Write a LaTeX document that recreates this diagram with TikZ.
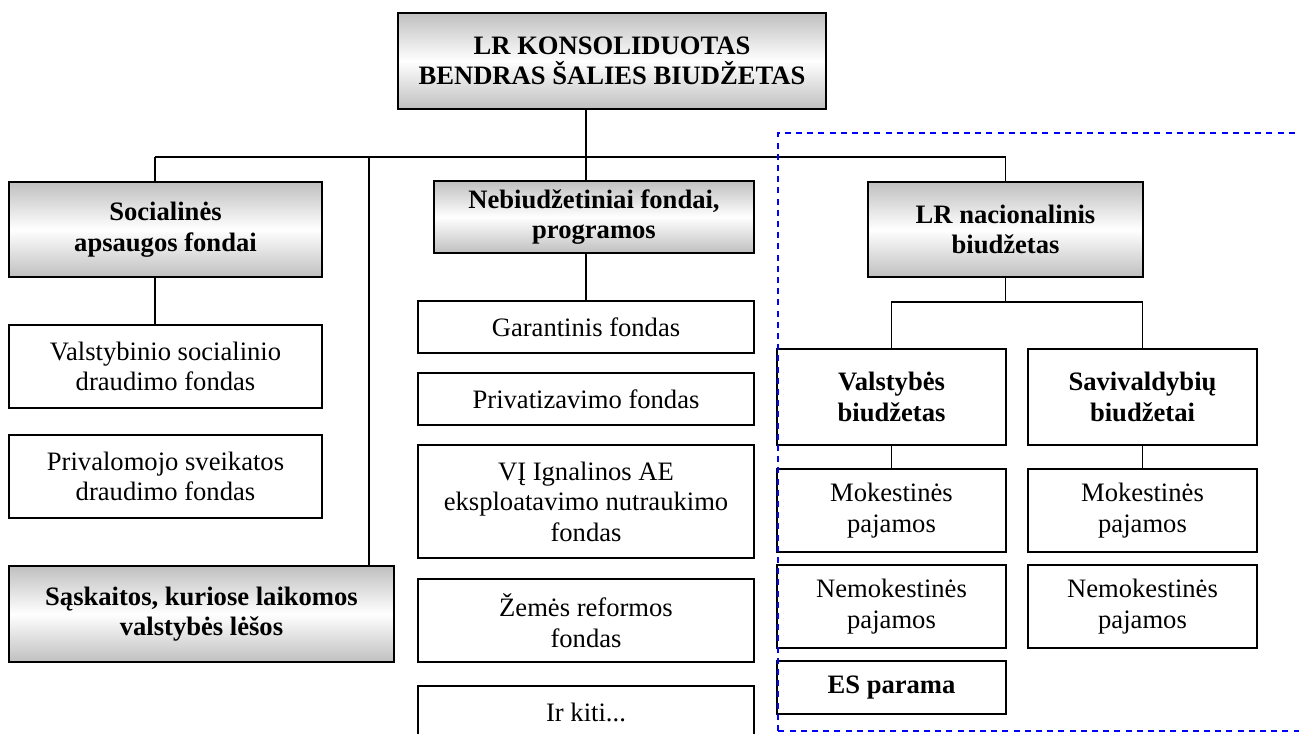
\documentclass[tikz,border=0pt]{standalone}
\usepackage{fontspec}
\setmainfont{Liberation Serif}
\usepackage{tikz}

\begin{document}
\begin{tikzpicture}
			[x=0.5pt,y=-0.5pt,line width=0.9pt,
			every node/.style={draw,line width=0.9pt,align=center,inner sep=0pt,font=\fontsize{13.3}{15.3}\selectfont},
			head/.style={top color=gray!50,bottom color=gray!50,middle color=white,font=\fontsize{13.3}{15.3}\selectfont\bfseries},
			sub/.style={font=\fontsize{13.3}{15.3}\selectfont\bfseries},
			nacframe/.style={blue,dashed,dash pattern=on 3pt off 2.6pt,line width=0.8pt}]
			\clip (0,0) rectangle (1299,733);
			\node[head,minimum width=214pt,minimum height=48pt] (top) at (612,61) {LR KONSOLIDUOTAS\\BENDRAS ŠALIES BIUDŽETAS};
			\node[head,minimum width=156.5pt,minimum height=47.5pt] (soc) at (165.5,229.5) {Socialinės\\apsaugos fondai};
			\node[minimum width=156.5pt,minimum height=41.5pt] (vsd) at (165.5,366.5) {Valstybinio socialinio\\draudimo fondas};
			\node[minimum width=156.5pt,minimum height=41.5pt] (psd) at (165.5,476.5) {Privalomojo sveikatos\\draudimo fondas};
			\node[head,minimum width=192.5pt,minimum height=48pt] (sask) at (201.5,614) {Sąskaitos, kuriose laikomos\\valstybės lėšos};
			\node[head,minimum width=160pt,minimum height=36pt] (nebiud) at (594,217) {Nebiudžetiniai fondai,\\programos};
			\node[minimum width=168pt,minimum height=26pt] (gar) at (586,327) {Garantinis fondas};
			\node[minimum width=168pt,minimum height=26pt] (priv) at (586,399) {Privatizavimo fondas};
			\node[minimum width=168pt,minimum height=56.5pt] (ign) at (586,501.5) {VĮ Ignalinos AE\\eksploatavimo nutraukimo\\fondas};
			\node[minimum width=168pt,minimum height=41.5pt] (zem) at (586,620.5) {Žemės reformos\\fondas};
			\node[minimum width=168pt,minimum height=26pt] (kiti) at (586,712) {Ir kiti...};
			\node[head,minimum width=137.5pt,minimum height=47.5pt] (nac) at (1005.5,229.5) {LR nacionalinis\\biudžetas};
			\node[sub,minimum width=114.5pt,minimum height=48pt] (vb) at (891.5,397) {Valstybės\\biudžetas};
			\node[sub,minimum width=114.5pt,minimum height=48pt] (sb) at (1142.5,397) {Savivaldybių\\biudžetai};
			\node[minimum width=114.5pt,minimum height=41.5pt] (vmok) at (891.5,510.5) {Mokestinės\\pajamos};
			\node[minimum width=114.5pt,minimum height=41.5pt] (smok) at (1142.5,510.5) {Mokestinės\\pajamos};
			\node[minimum width=114.5pt,minimum height=41.5pt] (vnemok) at (891.5,606.5) {Nemokestinės\\pajamos};
			\node[minimum width=114.5pt,minimum height=41.5pt] (snemok) at (1142.5,606.5) {Nemokestinės\\pajamos};
			\node[sub,minimum width=114.5pt,minimum height=26.5pt] (es) at (891.5,687.5) {ES parama};

			\coordinate (b1) at (155,157);
			\coordinate (b2) at (369,157);
			\coordinate (b3) at (586,157);
			\coordinate (b4) at (1005.5,157);
			\coordinate (n1) at (1005.5,302);
			\draw (b1) -- (b4);
			\draw (b1) -- (b1 |- soc.north);
			\draw (b2) -- (b2 |- sask.north);
			\draw (b3 |- top.south) -- (b3 |- nebiud.north);
			\draw (b4) -- (nac.north);
			\draw (b1 |- soc.south) -- (b1 |- vsd.north);
			\draw (b3 |- nebiud.south) -- (gar.north);
			\draw (nac.south) -- (n1);
			\draw (vb.north) |- (n1) -| (sb.north);
			\foreach \from/\to in {vb/vmok,sb/smok}
			\draw (\from.south) -- (\to.north);

			\coordinate (f1) at (778,731);
			\coordinate (f2) at (1320,133);
			\draw[nacframe] (f1) rectangle (f2);
			\end{tikzpicture}
\end{document}
